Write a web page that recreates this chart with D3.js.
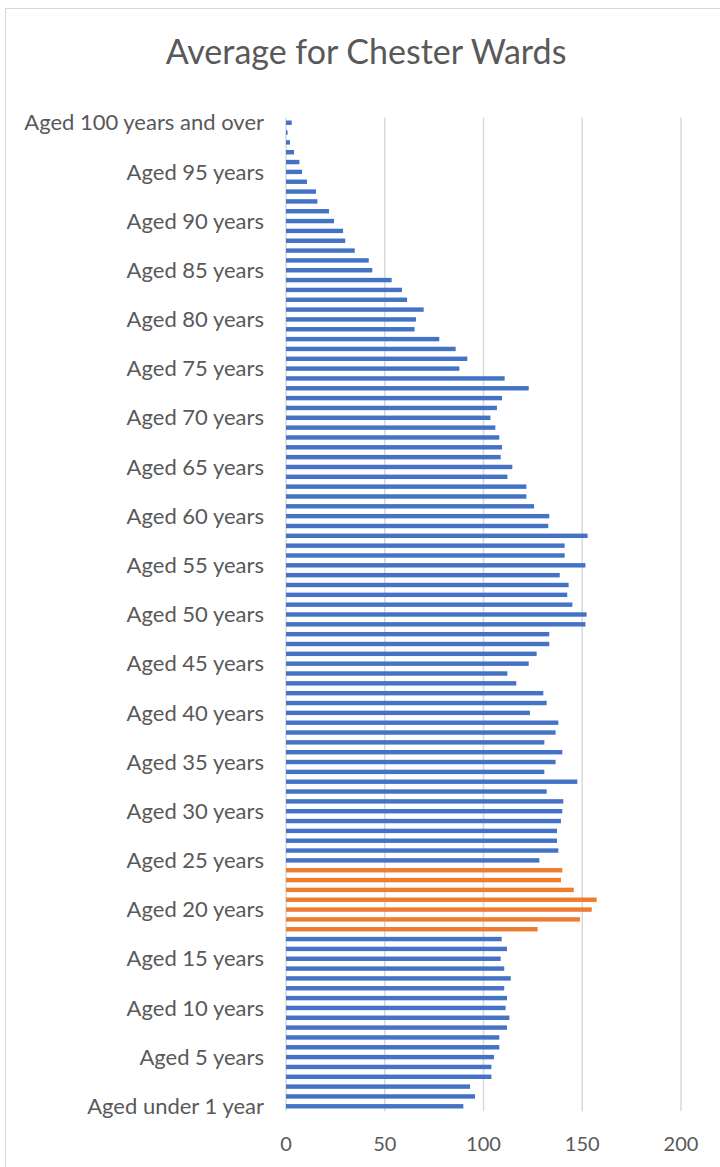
<!DOCTYPE html>
<html>
<head>
<meta charset="utf-8">
<script src="https://cdn.jsdelivr.net/npm/d3@7"></script>
<style>
  body { margin: 0; background: #fff; }
  text { font-family: Lato, "Open Sans", sans-serif; fill: #595959; }
</style>
</head>
<body>
<script>
// ages under 1 .. 100 and over
var ages = [];
for (var a = 0; a <= 100; a++) ages.push(a);

var categories = ages.map(function(a) {
  if (a === 0) return "Aged under 1 year";
  if (a === 1) return "Aged 1 year";
  if (a === 100) return "Aged 100 years and over";
  return "Aged " + a + " years";
});

var values = [
  89.8, 95.7, 93.2, 104.0, 104.0, 105.3, 108.0, 108.0, 111.9, 113.1,
  111.2, 111.9, 110.5, 113.8, 110.5, 108.7, 111.9, 109.2, 127.4, 148.9,
  154.8, 157.3, 145.7, 139.2, 139.9, 128.3, 137.9, 137.2, 137.2, 139.2,
  139.9, 140.4, 132.0, 147.5, 130.8, 136.5, 139.9, 130.8, 136.5, 137.9,
  123.5, 132.0, 130.3, 116.6, 112.1, 122.9, 126.9, 133.3, 133.3, 151.6,
  152.2, 145.0, 142.4, 143.1, 138.6, 151.6, 141.1, 141.1, 152.7, 132.8,
  133.3, 125.6, 121.7, 121.7, 112.1, 114.6, 108.7, 109.4, 108.0, 106.0,
  103.5, 106.8, 109.4, 122.9, 110.7, 87.8, 91.8, 85.9, 77.6, 65.1,
  65.8, 69.7, 61.3, 58.7, 53.5, 43.7, 41.9, 34.8, 30.0, 28.9,
  24.3, 21.8, 15.9, 15.2, 10.6, 8.1, 6.8, 4.1, 2.0, 0.8,
  2.9
];

// highlighted categories (orange)
var highlight = ["Aged 18 years", "Aged 19 years", "Aged 20 years", "Aged 21 years",
  "Aged 22 years", "Aged 23 years", "Aged 24 years"];

var xTicks = [0, 50, 100, 150, 200];
var title = "Average for Chester Wards";

var width = 720, height = 1167;

var svg = d3.select("body").append("svg")
  .attr("width", width)
  .attr("height", height);

// chart frame
svg.append("rect")
  .attr("x", 5.5).attr("y", 8.5)
  .attr("width", width + 10).attr("height", height + 10)
  .attr("fill", "#fff")
  .attr("stroke", "#d9d9d9")
  .attr("stroke-width", 1);

var data = categories.map(function(c, i) { return { cat: c, val: values[i] }; });

var x = d3.scaleLinear().domain([0, 200]).range([286, 681]);
var y = d3.scaleBand()
  .domain(categories.slice().reverse())
  .range([117.8, 1111.2])
  .paddingInner(0.55)
  .paddingOuter(0.275);

// gridlines
svg.append("g").selectAll("line")
  .data(xTicks)
  .enter().append("line")
  .attr("x1", function(d) { return x(d); })
  .attr("x2", function(d) { return x(d); })
  .attr("y1", 117.8)
  .attr("y2", 1111.2)
  .attr("stroke", "#d9d9d9")
  .attr("stroke-width", 1.5);

// bars
svg.append("g").selectAll("rect")
  .data(data)
  .enter().append("rect")
  .attr("x", x(0))
  .attr("y", function(d) { return y(d.cat); })
  .attr("width", function(d) { return x(d.val) - x(0); })
  .attr("height", y.bandwidth())
  .attr("fill", function(d) { return highlight.indexOf(d.cat) >= 0 ? "#ED7D31" : "#4472C4"; });

// category labels, every 5th
svg.append("g").selectAll("text")
  .data(data.filter(function(d, i) { return i % 5 === 0; }))
  .enter().append("text")
  .attr("x", 264)
  .attr("y", function(d) { return y(d.cat) + y.bandwidth() / 2; })
  .attr("dy", "0.35em")
  .attr("text-anchor", "end")
  .style("font-size", "22px")
  .text(function(d) { return d.cat; });

// value axis labels
svg.append("g").selectAll("text")
  .data(xTicks)
  .enter().append("text")
  .attr("x", function(d) { return x(d); })
  .attr("y", 1151)
  .attr("text-anchor", "middle")
  .style("font-size", "20px")
  .text(function(d) { return d; });

svg.append("text")
  .attr("x", 366)
  .attr("y", 64)
  .attr("text-anchor", "middle")
  .style("font-size", "34px")
  .text(title);
</script>
</body>
</html>
